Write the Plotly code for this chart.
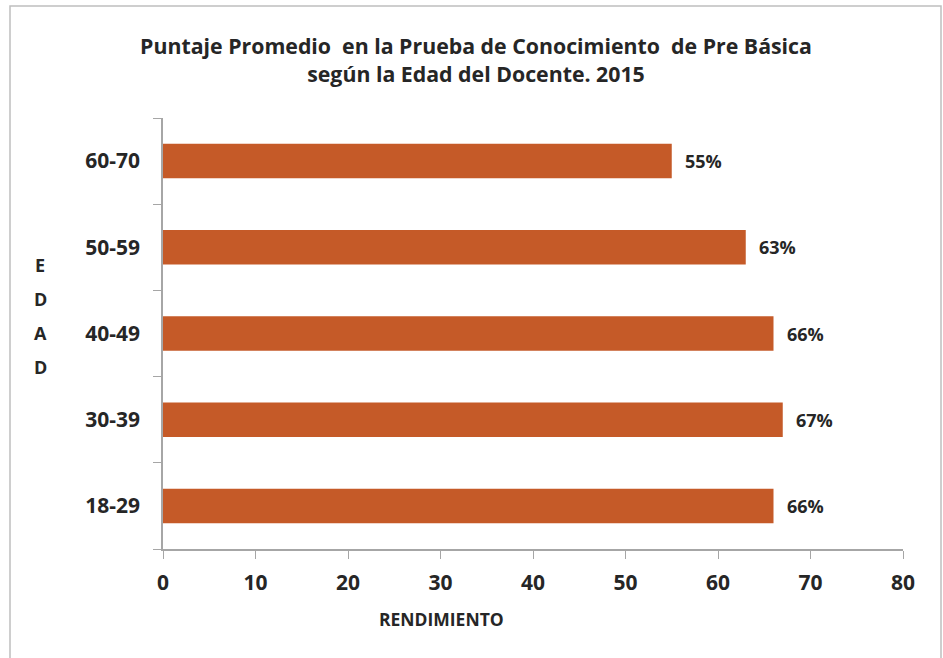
import plotly.graph_objects as go

categories = ["18-29", "30-39", "40-49", "50-59", "60-70"]
values = [66, 67, 66, 63, 55]
label_texts = ["66%", "67%", "66%", "63%", "55%"]
x_ticks = [0, 10, 20, 30, 40, 50, 60, 70, 80]
y_title_letters = ["E", "D", "A", "D"]

W, H = 943, 658
L, R, T, B = 163, 40, 118, 109
pw, ph = W - L - R, H - T - B

FONT = "'Open Sans', sans-serif"
TXT = "#262626"
AX = "#a6a6a6"
BAR = "#c55a28"

fig = go.Figure(go.Bar(
    x=values, y=categories, orientation="h",
    marker=dict(color=BAR, line=dict(width=0)),
    hoverinfo="skip",
))

ann = []
for c, v, t in zip(categories, values, label_texts):
    ann.append(dict(x=v, y=c, xref="x", yref="y", text=t, showarrow=False,
                    xanchor="left", yanchor="middle", xshift=11,
                    font=dict(family=FONT, size=18, color=TXT, weight="bold")))

# vertical stacked axis title
letter_px = [265, 299, 333, 367]
for ch, py in zip(y_title_letters, letter_px):
    ann.append(dict(x=(40 - L) / pw, y=(H - B - py) / ph, xref="paper", yref="paper",
                    text=ch, showarrow=False, xanchor="center", yanchor="middle",
                    font=dict(family=FONT, size=18, color=TXT, weight="bold")))

# x axis title
ann.append(dict(x=(441 - L) / pw, y=(H - B - 619) / ph, xref="paper", yref="paper",
                text="RENDIMIENTO", showarrow=False, xanchor="center", yanchor="middle",
                font=dict(family=FONT, size=17.5, color=TXT, weight="bold")))

fig.update_layout(
    width=W, height=H,
    margin=dict(l=L, r=R, t=T, b=B, pad=0),
    paper_bgcolor="white", plot_bgcolor="white",
    bargap=0.6,
    showlegend=False,
    title=dict(text="Puntaje Promedio  en la Prueba de Conocimiento  de Pre Básica<br>según la Edad del Docente. 2015",
               x=476 / W, xanchor="center", y=1 - 54 / H, yanchor="middle",
               font=dict(family=FONT, size=21.3, color=TXT, weight="bold")),
    xaxis=dict(range=[0, 80], tickvals=x_ticks, ticks="outside", ticklen=8, tickcolor=AX,
               showline=True, linecolor=AX, linewidth=1.5, showgrid=False, zeroline=False,
               tickfont=dict(family=FONT, size=21, color=TXT, weight="bold"), ticklabelstandoff=6),
    yaxis=dict(categoryorder="array", categoryarray=categories, tickson="boundaries",
               ticks="outside", ticklen=8, tickcolor=AX, showline=True, linecolor=AX,
               linewidth=1.5, showgrid=False, zeroline=False,
               tickfont=dict(family=FONT, size=21, color=TXT, weight="bold"), ticklabelstandoff=17),
    annotations=ann,
    shapes=[dict(type="rect", xref="paper", yref="paper",
                 x0=(10 - L) / pw, x1=(941 - L) / pw,
                 y0=(H - B - 660) / ph, y1=(H - B - 6) / ph,
                 line=dict(color="#bfbfbf", width=1.5), fillcolor="rgba(0,0,0,0)")],
)

fig.write_html("out.html", config={"displayModeBar": False},
               post_script="document.body.style.margin='0';document.body.style.overflow='hidden';")
